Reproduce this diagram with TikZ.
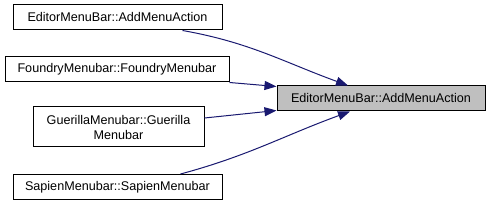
\documentclass[tikz,border=0pt]{standalone}
\usepackage{fontspec}
\setmainfont{Liberation Sans}
\usetikzlibrary{arrows.meta, positioning, calc}
\definecolor{edgeblue}{HTML}{191970}

\begin{document}
\begin{tikzpicture}[x=1pt, y=-1pt,
  fnbox/.style={draw=black, fill=white, line width=1pt, inner xsep=0pt,
    minimum height=25pt, font=\fontsize{12.6}{15}\selectfont, align=center},
  callee/.style={fnbox, fill=black!25},
  calledge/.style={draw=edgeblue, line width=1pt,
    -{Triangle[length=12pt, width=9pt]}}]
\useasboundingbox (0,0) rectangle (491,205);

% 呼び出し元
\node[fnbox, minimum width=209pt] (menuAdd) at (117.5,17.5) {EditorMenuBar::AddMenuAction};
\node[fnbox, minimum width=224pt] (foundry) at (117,69.5) {FoundryMenubar::FoundryMenubar};
\node[fnbox, minimum width=171pt, minimum height=40pt] (guerilla) at (118.5,127) {GuerillaMenubar::Guerilla\\Menubar};
\node[fnbox, minimum width=209pt] (sapien) at (117.5,187) {SapienMenubar::SapienMenubar};

% 呼び出し先
\node[callee, minimum width=208pt] (target) at (381,98.5) {EditorMenuBar::AddMenuAction};

% 呼び出し
\draw[calledge] ([xshift=-40pt]menuAdd.south east) to[out=-10, in=160] ([xshift=-33pt]target.north);
\draw[calledge] (foundry.south east) -- ([yshift=-1pt]target.north west);
\draw[calledge] ([yshift=9pt]guerilla.east) -- ([yshift=1pt]target.south west);
\draw[calledge] ([xshift=-42pt]sapien.north east) to[out=15, in=-160] ([xshift=-31pt]target.south);

\end{tikzpicture}
\end{document}
